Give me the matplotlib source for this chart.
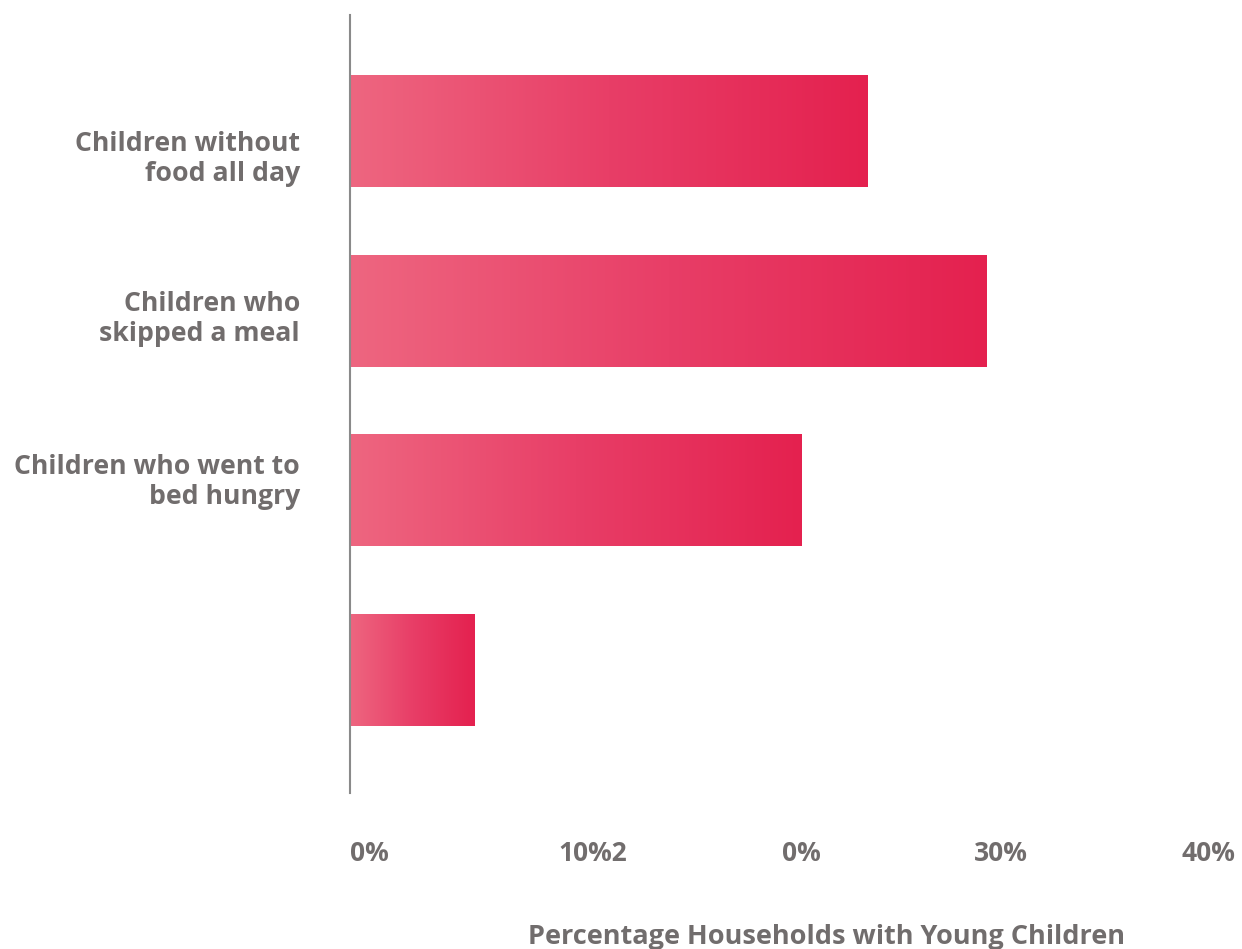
import matplotlib
matplotlib.use("Agg")
import matplotlib.pyplot as plt
import numpy as np
from matplotlib.colors import LinearSegmentedColormap

categories = ["Children without\nfood all day", "Children who\nskipped a meal",
              "Children who went to\nbed hungry", ""]
values = [24.9, 30.6, 21.7, 6.0]
label_pos = [0.128, 1.018, 1.925, 2.83]
tick_pos = [0, 10, 20.8, 30, 40]
tick_labels = ["0%", "10%2", "0%", "30%", "40%"]
xlabel = "Percentage Households with Young Children"

TEXT = "#716d6d"
FONT = ["Open Sans", "DejaVu Sans"]
plt.rcParams['font.family'] = FONT

fig = plt.figure(figsize=(12.42, 9.49), dpi=100)
ax = fig.add_axes([350/1242, 1-793/949, 1-350/1242, (793-15)/949])

cmap = LinearSegmentedColormap.from_list("g", ["#ee6680", "#e83e67", "#e4214f"])
ypos = np.arange(len(values))
h = 0.623
bars = ax.barh(ypos, values, height=h, color="none", edgecolor="none")
grad = np.linspace(0, 1, 256).reshape(1, -1)
for b, v, y in zip(bars, values, ypos):
    ax.imshow(grad, cmap=cmap, aspect="auto", extent=[0, v, y + h/2, y - h/2],
              interpolation="bicubic", zorder=2)

ax.set_xlim(0, 42.9)
ax.set_ylim(3.683, -0.645)

for s in ["top", "right", "bottom"]:
    ax.spines[s].set_visible(False)
ax.spines["left"].set_color("#8a8a8a")
ax.spines["left"].set_linewidth(1.5)
ax.spines["left"].set_zorder(3)

ax.set_yticks(label_pos)
ax.set_yticklabels(categories, fontsize=19.2, fontweight="bold", color=TEXT,
                   linespacing=1.2)
ax.tick_params(axis="y", length=0, pad=36)
ax.set_xticks(tick_pos)
ax.set_xticklabels(tick_labels, fontsize=19, fontweight="bold", color=TEXT, ha="left")
ax.tick_params(axis="x", length=0, pad=34)
ax.set_xlabel(xlabel, fontsize=19.5, fontweight="bold", color=TEXT)
ax.xaxis.set_label_coords((827-350)/892, -(937-793)/778, transform=ax.transAxes)
ax.xaxis.label.set_va("center")

fig.savefig("out.png", dpi=100)
